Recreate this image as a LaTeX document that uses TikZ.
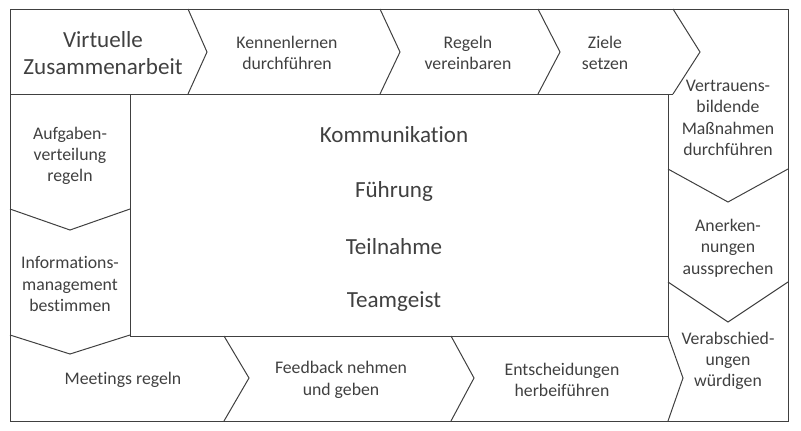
\documentclass[tikz,border=0pt]{standalone}
\usepackage{fontspec}
\setmainfont{Carlito}[Ligatures={NoCommon}]
\usepackage{xcolor}
\usepackage{tikz}

\definecolor{linegray}{HTML}{404040}
\tikzset{
  lbl/.style={align=center, text=linegray, inner sep=0pt,
    font=\fontsize{13.3}{16}\selectfont},
  biglbl/.style={align=center, text=linegray, inner sep=0pt,
    font=\fontsize{17.3}{20}\selectfont}
}

\begin{document}
\begin{tikzpicture}[x=0.75pt, y=-0.75pt, line width=0.75pt, draw=linegray]
\useasboundingbox (0,0) rectangle (801,430);
% frame and middle field
\draw [linegray] (10,9) rectangle (788,421);
\draw [linegray] (130,94) rectangle (668,336);
\draw [linegray] (10,94) -- (673,94) ;
\draw [linegray] (668,94) -- (668,336) ;
% chevrons to the right, top row and bottom row
\foreach \x/\d in {188/19, 380/20, 538/22, 673/27}
  { \draw [linegray] (\x,9) -- ({\x+\d},52) -- (\x,94) ; }
\foreach \x/\d in {224/25, 451/23, 668/15}
  { \draw [linegray] (\x,336) -- ({\x+\d},378) -- (\x,421) ; }
% chevrons downwards, left and right column
\foreach \y/\d in {209/21, 335/19}
  { \draw [linegray] (10,\y) -- (70,{\y+\d}) -- (130,\y) ; }
\foreach \y/\d in {169/33, 282/40}
  { \draw [linegray] (668,\y) -- (728,{\y+\d}) -- (788,\y) ; }

% labels
\node (virtuell) at (103,53) [biglbl] {Virtuelle\\Zusammenarbeit} ;
\node (kennen)   at (287,53) [lbl] {Kennenlernen\\durchführen} ;
\node (regeln)   at (468,53) [lbl] {Regeln\\vereinbaren} ;
\node (ziele)    at (605,53) [lbl] {Ziele\\setzen} ;
\node (vertrauen) at (728,118) [lbl] {Vertrauens-\\bildende\\Maßnahmen\\durchführen} ;
\node (anerkenn) at (728,248) [lbl] {Anerken-\\nungen\\aussprechen} ;
\node (abschied) at (728,361) [lbl] {Verabschied-\\ungen\\würdigen} ;
\node (entscheid) at (562,380) [lbl] {Entscheidungen\\herbeiführen} ;
\node (feedback) at (341,380) [lbl] {Feedback nehmen\\und geben} ;
\node (meetings) at (123,380) [lbl] {Meetings regeln} ;
\node (info)     at (70,284) [lbl] {Informations-\\management\\bestimmen} ;
\node (aufgaben) at (70,156) [lbl] {Aufgaben-\\verteilung\\regeln} ;
\foreach \t/\y [count=\i] in {Kommunikation/135, Führung/191, Teilnahme/247, Teamgeist/302}
  { \node (mitte\i) at (394,\y) [biglbl] {\t} ; }

\end{tikzpicture}
\end{document}
